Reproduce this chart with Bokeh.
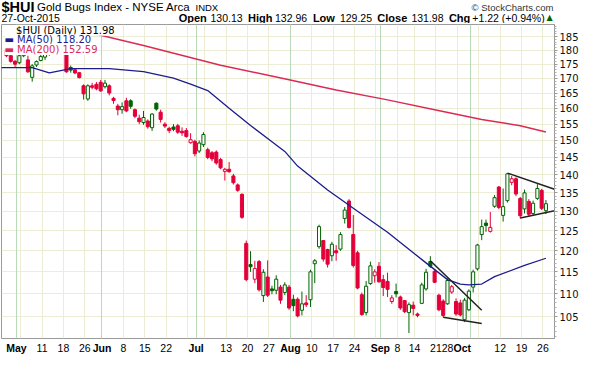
import numpy as np
import pandas as pd
from bokeh.plotting import figure
from bokeh.layouts import column
from bokeh.models import ColumnDataSource, FixedTicker, Label, Grid, NumeralTickFormatter, Range1d
from bokeh.embed import file_html
from bokeh.resources import INLINE

# ---------------- data ----------------
HOLIDAYS = ["2015-05-25", "2015-07-03", "2015-09-07"]
FIRST_DAY = "2015-04-29"
LAST_DAY = "2015-10-27"

opens = [180.0, 178.0, 176.0, 175.5, 178.0, 176.5, 170.4, 174.7, 176.3, 177.5,
         178.5, 180.0, 181.0, 180.0, 178.5, 173.8, 173.0, 172.0, 167.5, 163.1,
         167.5, 168.0, 168.7, 167.2, 167.5, 163.3, 160.8, 159.6, 162.5, 162.5,
         159.6, 156.9, 155.5, 156.0, 153.9, 161.7, 158.8, 155.0, 153.7, 154.1,
         154.5, 152.8, 153.0, 149.3, 149.7, 146.8, 148.7, 147.2, 146.3, 146.5,
         144.3, 140.9, 141.5, 139.6, 137.1, 134.5, 121.8, 116.7, 113.3, 117.4,
         109.6, 113.8, 111.1, 110.8, 111.5, 110.3, 111.5, 108.8, 108.8, 106.4,
         108.0, 108.7, 116.9, 121.0, 122.5, 120.3, 118.8, 120.0, 120.4, 128.1,
         132.7, 124.0, 119.5, 109.8, 105.9, 112.3, 114.1, 116.3, 113.2, 112.8,
         108.3, 110.5, 109.3, 108.5, 105.9, 107.5, 105.6, 107.9, 111.1, 117.4,
         115.1, 109.7, 108.4, 107.8, 110.4, 108.3, 108.0, 104.4, 106.5, 111.5,
         115.7, 124.0, 126.9, 124.8, 131.3, 136.5, 128.9, 132.8, 137.8, 138.8,
         133.4, 130.6, 132.6, 129.4, 133.4, 135.6, 130.13]
highs = [181.0, 179.0, 176.5, 179.0, 180.0, 178.0, 175.0, 176.3, 178.5, 179.5,
         181.0, 182.0, 182.5, 182.0, 179.0, 174.5, 173.5, 172.3, 168.0, 168.0,
         168.5, 168.8, 169.5, 169.5, 168.0, 163.8, 161.5, 162.0, 163.5, 163.0,
         160.0, 158.0, 159.2, 156.5, 158.5, 162.0, 159.6, 155.6, 154.2, 155.0,
         155.1, 154.0, 153.8, 152.2, 150.2, 150.0, 152.5, 147.8, 146.8, 147.0,
         144.8, 141.9, 143.6, 140.2, 137.5, 134.8, 122.5, 119.9, 117.6, 117.8,
         115.6, 117.7, 111.8, 114.2, 112.0, 112.6, 112.0, 109.8, 109.2, 110.5,
         109.7, 115.5, 118.0, 126.5, 122.6, 120.5, 122.2, 121.4, 124.6, 131.1,
         133.2, 129.0, 120.0, 110.3, 112.9, 117.4, 115.6, 117.3, 114.3, 114.8,
         109.7, 112.3, 109.6, 108.6, 108.1, 108.3, 105.9, 112.5, 115.7, 118.7,
         115.6, 110.0, 108.8, 113.5, 112.0, 109.0, 108.7, 109.1, 111.0, 115.5,
         121.7, 127.8, 127.8, 129.8, 134.3, 136.8, 136.1, 140.4, 139.6, 139.2,
         133.8, 135.8, 133.2, 132.8, 137.3, 136.0, 132.96]
lows = [177.5, 175.5, 174.0, 175.0, 177.5, 172.0, 168.9, 174.0, 176.0, 176.5,
        178.0, 179.0, 179.5, 179.0, 172.0, 172.0, 171.5, 170.0, 162.9, 162.5,
        166.3, 166.0, 165.5, 166.6, 164.3, 161.5, 157.8, 158.3, 158.8, 159.9,
        156.9, 155.0, 154.8, 153.6, 152.9, 159.3, 155.5, 153.8, 152.2, 152.8,
        152.0, 151.4, 150.8, 149.0, 145.2, 146.2, 148.0, 144.4, 143.8, 142.8,
        141.5, 138.3, 140.5, 137.2, 135.2, 128.0, 112.8, 115.0, 112.4, 110.5,
        108.2, 109.3, 109.9, 109.9, 107.8, 109.7, 106.5, 106.2, 104.9, 105.3,
        107.1, 107.1, 112.4, 120.5, 117.4, 116.0, 117.5, 117.6, 120.0, 126.8,
        125.5, 116.0, 111.0, 105.2, 105.3, 112.0, 112.5, 112.5, 109.5, 109.3,
        107.8, 109.2, 106.5, 105.8, 101.6, 105.3, 104.9, 107.8, 110.7, 115.9,
        112.4, 106.2, 104.9, 107.6, 110.0, 105.2, 105.1, 103.9, 106.2, 110.3,
        115.3, 122.6, 124.7, 124.5, 130.9, 130.5, 127.3, 132.3, 137.0, 134.0,
        128.1, 129.4, 128.6, 128.9, 133.0, 130.3, 129.25]
closes = [178.0, 176.0, 175.0, 178.0, 179.0, 172.3, 174.4, 175.9, 177.7, 178.5,
          180.0, 181.0, 180.0, 181.5, 172.3, 172.9, 171.9, 170.3, 164.8, 167.5,
          167.0, 166.5, 165.8, 168.4, 165.1, 162.6, 159.6, 160.6, 159.2, 160.7,
          157.5, 155.8, 157.1, 154.2, 158.2, 159.8, 156.5, 154.4, 153.0, 153.4,
          152.5, 152.3, 151.2, 150.2, 146.0, 149.2, 151.8, 144.9, 144.5, 143.3,
          141.9, 141.5, 140.8, 137.7, 135.6, 128.4, 113.2, 116.2, 115.8, 110.9,
          114.9, 109.7, 110.7, 113.3, 108.6, 112.0, 106.9, 107.4, 105.2, 107.8,
          107.6, 115.0, 117.6, 126.0, 118.0, 116.8, 121.6, 119.5, 124.0, 130.3,
          125.8, 116.5, 111.3, 105.5, 111.7, 116.4, 115.0, 112.7, 111.4, 111.0,
          109.1, 110.0, 106.9, 106.1, 107.6, 106.8, 105.3, 112.0, 114.9, 116.3,
          112.6, 106.5, 105.3, 113.0, 111.6, 105.6, 105.4, 108.6, 110.6, 115.0,
          121.4, 126.0, 126.3, 125.8, 133.6, 131.0, 131.2, 140.2, 138.8, 134.6,
          128.8, 134.9, 129.2, 132.1, 136.1, 130.76, 131.98]

ma50_dates = ["2015-04-27", "2015-05-07", "2015-05-13", "2015-05-20", "2015-06-03",
              "2015-06-15", "2015-06-24", "2015-06-30", "2015-07-07", "2015-07-14",
              "2015-07-21", "2015-07-28", "2015-07-31", "2015-08-05", "2015-08-14",
              "2015-08-25", "2015-09-03", "2015-09-09", "2015-09-17", "2015-09-24",
              "2015-09-29", "2015-10-01", "2015-10-06", "2015-10-09", "2015-10-20",
              "2015-10-27"]
ma50_vals = [173.8, 173.8, 171.9, 173.4, 173.4, 172.4, 170.1, 168.1, 165.9, 160.1,
             154.6, 149.6, 146.7, 142.4, 135.7, 130.0, 124.6, 122.0, 117.1, 113.2,
             112.2, 112.0, 112.2, 113.9, 116.5, 118.20]

ma200_dates = ["2015-04-27", "2015-05-11", "2015-06-01", "2015-06-15", "2015-07-10",
               "2015-08-03", "2015-08-18", "2015-09-03", "2015-09-21", "2015-10-06",
               "2015-10-19", "2015-10-27"]
ma200_vals = [192.0, 190.0, 185.5, 181.7, 174.6, 169.6, 166.1, 162.8, 159.6, 156.5,
              154.5, 152.59]

trend_start_dates = ["2015-10-14", "2015-10-19", "2015-09-18", "2015-09-23"]
trend_start_vals = [140.4, 128.2, 117.6, 104.9]
trend_end_dates = ["2015-10-29", "2015-10-29", "2015-10-06", "2015-10-06"]
trend_end_vals = [135.9, 130.1, 106.4, 103.6]

tick_dates = ["2015-05-01", "2015-05-11", "2015-05-18", "2015-05-26", "2015-06-01",
              "2015-06-08", "2015-06-15", "2015-06-22", "2015-07-01", "2015-07-13",
              "2015-07-20", "2015-07-27", "2015-08-03", "2015-08-10", "2015-08-17",
              "2015-08-24", "2015-09-01", "2015-09-08", "2015-09-14", "2015-09-21",
              "2015-09-28", "2015-10-01", "2015-10-12", "2015-10-19", "2015-10-26"]
tick_labels = ["May", "11", "18", "26", "Jun", "8", "15", "22", "Jul", "13", "20", "27",
               "Aug", "10", "17", "24", "Sep", "8", "14", "21", "28", "Oct", "12", "19", "26"]

price_ticks = [105, 110, 115, 120, 125, 130, 135, 140, 145, 150, 155, 160, 165, 170,
               175, 180, 185]

header_items = [("Open", True), ("130.13", False), ("High", True), ("132.96", False),
                ("Low", True), ("129.25", False), ("Close", True), ("131.98", False),
                ("Chg", True), ("+1.22 (+0.94%)", False)]

# ---------------- helpers ----------------
UP = "#006400"
DOWN = "#E3003A"
GRID_SHIFT = 0.3


def pos(d):
    return float(np.busday_count(FIRST_DAY, d, holidays=HOLIDAYS))


def lab(fig, text, sx, sy, size, bold=False, color="#000000", font="Liberation Sans",
        align="left", units_x="screen", bg=None):
    fig.add_layout(Label(x=sx, y=sy, x_units=units_x, y_units="screen", text=text,
                         text_font=font, text_font_size=f"{size}px",
                         text_font_style="bold" if bold else "normal",
                         text_color=color, text_align=align, text_baseline="middle",
                         background_fill_color=bg))


def bare(fig):
    fig.xaxis.visible = False
    fig.yaxis.visible = False
    fig.xgrid.visible = False
    fig.ygrid.visible = False


days = pd.bdate_range(FIRST_DAY, LAST_DAY)
days = days[~days.isin(pd.to_datetime(HOLIDAYS))]
n = len(days)
xs = np.arange(n)
prev = [opens[0]] + closes[:-1]
cols = [UP if c >= pc else DOWN for c, pc in zip(closes, prev)]
fills = ["white" if c > o else col for o, c, col in zip(opens, closes, cols)]

src = ColumnDataSource(dict(
    x=xs, h=highs, l=lows,
    top=np.maximum(opens, closes), bot=np.minimum(opens, closes),
    col=cols, fill=fills))

week_idx = [k for k in range(1, n) if days[k].weekday() < days[k - 1].weekday()]
month_idx = [k for k in range(1, n) if days[k].month != days[k - 1].month]

FW = 553

# ---------------- header ----------------
hdr = figure(frame_width=579, frame_height=23, x_range=Range1d(0, 1), y_range=Range1d(0, 1),
             output_backend="svg", toolbar_location=None, title=None,
             min_border_left=1, min_border_right=0, min_border_top=0, min_border_bottom=0,
             outline_line_color=None, background_fill_color="white", border_fill_color="white")
bare(hdr)
R1, R2 = 16.5, 6.0
lab(hdr, "$HUI", 0, R1, 14.5, bold=True)
lab(hdr, "Gold Bugs Index - NYSE Arca", 35.5, R1, 11.5)
lab(hdr, "INDX", 194, R1, 9.5)
lab(hdr, "\u00a9 StockCharts.com", 552, R1, 9.5, color="#333333", align="right")
lab(hdr, "27-Oct-2015", 0, R2, 10.5)
hx = [177.2, 209.0, 246.5, 273.5, 311.4, 338.4, 375.8, 409.9, 447.4, 470.8]
for (t, b), sx in zip(header_items, hx):
    lab(hdr, t, sx, R2, 11 if b else 10.5, bold=b)
lab(hdr, "\u25b2", 545, R2, 8, color=UP, font="DejaVu Sans")

# ---------------- main chart ----------------
p = figure(frame_width=FW, frame_height=314,
           x_range=Range1d(-1.17, 128.0), y_range=Range1d(100.5, 189.6),
           y_axis_type="log", y_axis_location="right",
           output_backend="svg", toolbar_location=None, title=None,
           min_border_left=1, min_border_right=26, min_border_top=1, min_border_bottom=1,
           background_fill_color="white", border_fill_color="white",
           outline_line_color="#9a9a9a")

p.xaxis.visible = False
yax = p.yaxis[0]
yax.ticker = FixedTicker(ticks=price_ticks,
                         minor_ticks=[v for v in range(101, 190) if v % 5])
yax.formatter = NumeralTickFormatter(format="0")
yax.major_label_text_font = "DejaVu Sans"
yax.major_label_text_font_size = "10px"
yax.major_label_text_color = "#111111"
yax.major_label_standoff = 2
yax.major_tick_in = 0
yax.major_tick_out = 3
yax.minor_tick_in = 0
yax.minor_tick_out = 2
yax.axis_line_color = "#9a9a9a"
yax.major_tick_line_color = "#9a9a9a"
yax.minor_tick_line_color = "#b0b0b0"

p.ygrid.ticker = FixedTicker(ticks=price_ticks)
p.ygrid.grid_line_color = "#EDEDD6"
p.xgrid.ticker = FixedTicker(ticks=[k + GRID_SHIFT for k in week_idx])
p.xgrid.grid_line_color = "#EDEDD6"
p.add_layout(Grid(dimension=0, ticker=FixedTicker(ticks=[k + GRID_SHIFT for k in month_idx]),
                  grid_line_color="#B9DAB9"))

# candles
p.segment("x", "h", "x", "l", source=src, line_color="col", line_width=1)
p.vbar(x="x", top="top", bottom="bot", width=0.72, fill_color="fill",
       line_color="col", line_width=1, source=src)

# moving averages
p.line([pos(d) for d in ma200_dates], ma200_vals, line_color="#DC2A55", line_width=1.5)
p.line([pos(d) for d in ma50_dates], ma50_vals, line_color="#1C1C8C", line_width=1.3)

# trend lines
p.segment([pos(d) for d in trend_start_dates], trend_start_vals,
          [pos(d) for d in trend_end_dates], trend_end_vals,
          line_color="#222222", line_width=1.5)

# legend
lab(p, "$HUI (Daily) 131.98", 14.6, 308.2, 10, font="DejaVu Sans", bg="white")
lab(p, "\u25ac MA(50) 118.20", 2.9, 298.6, 10, font="DejaVu Sans", color="#1C1C8C", bg="white")
lab(p, "\u25ac MA(200) 152.59", 2.9, 289.0, 10, font="DejaVu Sans", color="#DC2A55", bg="white")

# ---------------- date labels ----------------
bot = figure(frame_width=FW, frame_height=16, x_range=p.x_range, y_range=Range1d(0, 1),
             output_backend="svg", toolbar_location=None, title=None,
             min_border_left=1, min_border_right=26, min_border_top=0, min_border_bottom=0,
             outline_line_color=None, background_fill_color="white", border_fill_color="white")
bare(bot)
tpos = [pos(d) + GRID_SHIFT for d in tick_dates]
for k, (t, xp) in enumerate(zip(tick_labels, tpos)):
    align = "center"
    xx = xp
    if k + 1 < len(tpos) and tpos[k + 1] - xp <= 3.5:
        align, xx = "right", xp - 0.9
    if k > 0 and xp - tpos[k - 1] <= 3.5:
        align, xx = "right", xp + 0.2
    lab(bot, t, xx, 8, 10.5, bold=t.isalpha(), align=align, units_x="data")

layout = column(hdr, p, bot, spacing=0)
open("out.html", "w").write(file_html(layout, INLINE))
